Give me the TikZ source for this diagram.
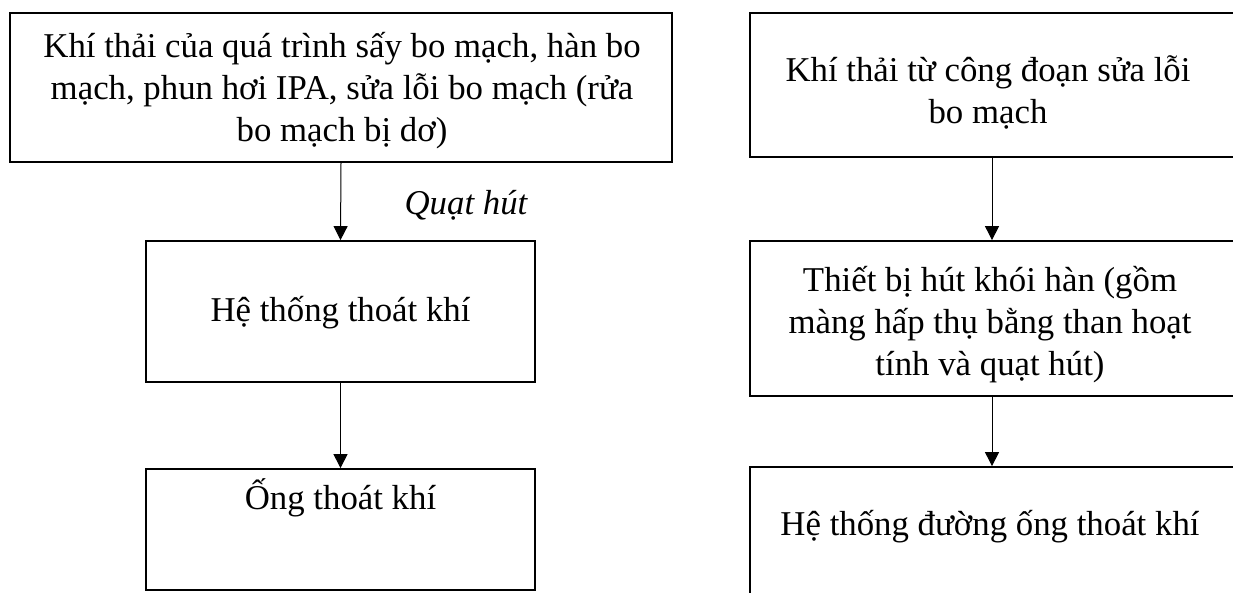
\documentclass[tikz,border=0pt]{standalone}
\usepackage{fontspec}
\setmainfont{Liberation Serif}
\usetikzlibrary{arrows.meta}

\tikzset{
  box/.style={draw, line width=1.8pt, rectangle, inner sep=0pt},
  txt/.style={align=center, inner sep=0pt, font=\fontsize{34.8}{42}\selectfont},
  flow/.style={draw, line width=1pt, -{Triangle[length=14pt,width=14pt]}},
}

\begin{document}
\begin{tikzpicture}[x=1pt, y=-1pt]
  \useasboundingbox (0,0) rectangle (1233,592);

  % Left column: boxes
  \node[box, minimum width=662pt, minimum height=149pt] (l1) at (341,87.5) {};
  \node[box, minimum width=389pt, minimum height=141pt] (l2) at (340.5,311.5) {};
  \node[box, minimum width=389pt, minimum height=121pt] (l3) at (340.5,529.5) {};

  % Left column: texts
  \node[txt] (l1t) at (342,91) {Khí thải của quá trình sấy bo mạch, hàn bo\\mạch, phun hơi IPA, sửa lỗi bo mạch (rửa\\bo mạch bị dơ)};
  \node[txt] (l2t) at (340.5,313) {Hệ thống thoát khí};
  \node[txt] (l3t) at (340.5,498) {Ống thoát khí};
  \node[txt, font=\fontsize{34.8}{42}\selectfont\itshape] (fan) at (466,205) {Quạt hút};

  % Right column: boxes (they run past the right edge of the sheet)
  \node[box, minimum width=484pt, minimum height=144pt] (r1) at (992,85) {};
  \node[box, minimum width=484pt, minimum height=155pt] (r2) at (992,318.5) {};
  \node[box, minimum width=484pt, minimum height=143pt] (r3) at (992,538.5) {};

  % Right column: texts
  \node[txt] (r1t) at (988,92) {Khí thải từ công đoạn sửa lỗi\\bo mạch};
  \node[txt] (r2t) at (990,325) {Thiết bị hút khói hàn (gồm\\màng hấp thụ bằng than hoạt\\tính và quạt hút)};
  \node[txt] (r3t) at (990,527) {Hệ thống đường ống thoát khí};

  % Connectors
  \draw[flow] (l1.south) -- (l2.north);
  \draw[flow] (l2.south) -- (l3.north);
  \draw[flow] (r1.south) -- (r2.north);
  \draw[flow] (r2.south) -- (r3.north);
\end{tikzpicture}
\end{document}
